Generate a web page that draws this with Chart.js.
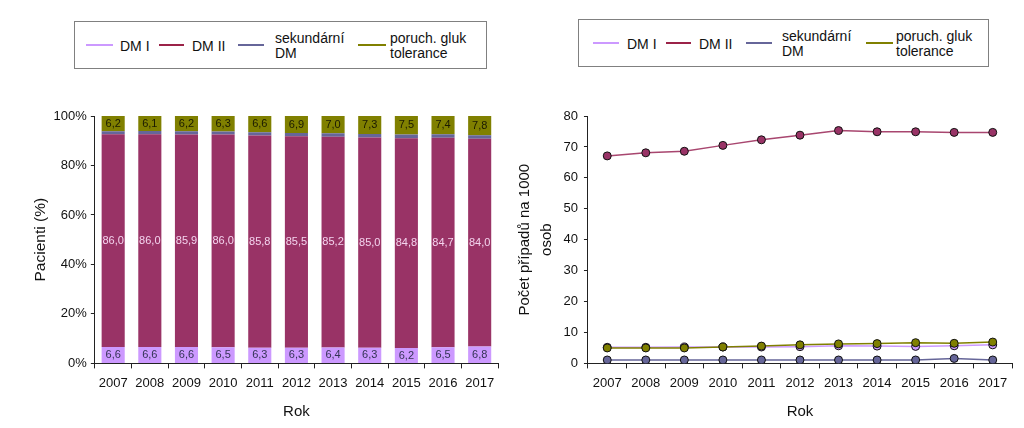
<!DOCTYPE html>
<html>
<head>
<meta charset="utf-8">
<script src="https://cdn.jsdelivr.net/npm/chart.js@4.4.0/dist/chart.umd.min.js"></script>
<style>
  html, body { margin:0; padding:0; background:#fff; width:1024px; height:428px; overflow:hidden; font-family:"Liberation Sans", Arial, sans-serif; }
  canvas { position:absolute; }
  .legend { position:absolute; border:1px solid #808080; background:#fff; box-sizing:border-box; }
  .lg-line { position:absolute; height:2px; }
  .lg-text { position:absolute; font-size:14px; line-height:15px; color:#111; transform:translateY(-50%); white-space:nowrap; }
</style>
</head>
<body>
<canvas id="left" width="512" height="333" style="left:0;top:95px;"></canvas>
<canvas id="right" width="512" height="333" style="left:512px;top:95px;"></canvas>
<div class="legend" id="legL" style="left:74px;top:21px;width:413px;height:48px;"></div>
<div class="legend" id="legR" style="left:578px;top:19px;width:411px;height:48px;"></div>
<script>
// ---- data ----
const years = ['2007','2008','2009','2010','2011','2012','2013','2014','2015','2016','2017'];
const seriesNames = [['DM I'], ['DM II'], ['sekundární', 'DM'], ['poruch. gluk', 'tolerance']];

// share of patients (%)
const pctDM1  = [6.6, 6.6, 6.6, 6.5, 6.3, 6.3, 6.4, 6.3, 6.2, 6.5, 6.8];
const pctDM2  = [86.0, 86.0, 85.9, 86.0, 85.8, 85.5, 85.2, 85.0, 84.8, 84.7, 84.0];
const pctSec  = [1.2, 1.3, 1.3, 1.2, 1.3, 1.3, 1.4, 1.4, 1.5, 1.4, 1.4];
const pctGluk = [6.2, 6.1, 6.2, 6.3, 6.6, 6.9, 7.0, 7.3, 7.5, 7.4, 7.8];

// cases per 1000 persons
const rateDM1  = [5.2, 5.2, 5.3, 5.3, 5.3, 5.4, 5.7, 5.6, 5.5, 5.7, 6.0];
const rateDM2  = [67.1, 68.1, 68.6, 70.5, 72.3, 73.8, 75.3, 74.9, 74.9, 74.7, 74.7];
const rateSec  = [1.1, 1.1, 1.1, 1.1, 1.1, 1.1, 1.1, 1.1, 1.1, 1.6, 1.1];
const rateGluk = [5.0, 5.0, 5.0, 5.3, 5.6, 6.0, 6.3, 6.4, 6.7, 6.5, 6.9];

const yTicksPct = [0, 20, 40, 60, 80, 100];
// ---- style ----
const colors = ['#cc99ff', '#993366', '#666699', '#808000'];
const lineColors = ['#cc99ff', '#a8466f', '#666699', '#808000'];
const legendLineColors = ['#cc99ff', '#9b2348', '#666699', '#808000'];
const labelColors = ['#333355', '#f4d4ee', null, '#1a1a00'];
const FONT = '"Liberation Sans", Arial, sans-serif';

Chart.defaults.font.family = FONT;
Chart.defaults.color = '#111';
Chart.defaults.animation = false;

// legends (HTML)
function buildLegend(el, lineX, textX, cy) {
  seriesNames.forEach((name, i) => {
    const ln = document.createElement('div');
    ln.className = 'lg-line';
    ln.style.left = lineX[i][0] + 'px';
    ln.style.width = (lineX[i][1] - lineX[i][0]) + 'px';
    ln.style.top = (cy - 1) + 'px';
    ln.style.background = legendLineColors[i];
    el.appendChild(ln);
    const tx = document.createElement('div');
    tx.className = 'lg-text';
    tx.style.left = textX[i] + 'px';
    tx.style.top = (cy + 1) + 'px';
    tx.innerHTML = name.join('<br>');
    el.appendChild(tx);
  });
}
buildLegend(document.getElementById('legL'), [[11,38],[84,109],[163,189],[283,311]], [45,117,200,315], 23);
buildLegend(document.getElementById('legR'), [[14,40],[87,112],[167,193],[287,314]], [48,120,203,317], 23);

// bar value labels
const barLabels = {
  id: 'barLabels',
  afterDatasetsDraw(chart) {
    const ctx = chart.ctx;
    ctx.save();
    ctx.font = '11px ' + FONT;
    ctx.textAlign = 'center';
    ctx.textBaseline = 'middle';
    chart.data.datasets.forEach((ds, di) => {
      if (!labelColors[di]) return;
      const meta = chart.getDatasetMeta(di);
      meta.data.forEach((el, i) => {
        const v = ds.data[i];
        ctx.fillStyle = labelColors[di];
        ctx.fillText(v.toFixed(1).replace('.', ','), el.x, (el.y + el.base) / 2);
      });
    });
    ctx.restore();
  }
};

const axisCommon = {
  border: { color: '#222', width: 1 },
};

new Chart(document.getElementById('left'), {
  type: 'bar',
  data: {
    labels: years,
    datasets: [
      { label: seriesNames[0].join(' '), data: pctDM1, backgroundColor: colors[0] },
      { label: seriesNames[1].join(' '), data: pctDM2, backgroundColor: colors[1] },
      { label: seriesNames[2].join(' '), data: pctSec, backgroundColor: colors[2] },
      { label: seriesNames[3].join(' '), data: pctGluk, backgroundColor: colors[3] },
    ].map(d => Object.assign(d, { barPercentage: 0.63, categoryPercentage: 1.0, borderWidth: 0 }))
  },
  options: {
    responsive: false,
    layout: { padding: { left: 27, right: 14, top: 21, bottom: 7 } },
    plugins: { legend: { display: false }, tooltip: { enabled: false } },
    scales: {
      x: {
        stacked: true,
        ...axisCommon,
        grid: { display: true, drawOnChartArea: false, tickLength: 5, color: '#222', offset: true },
        ticks: { font: { size: 13 }, color: '#111', padding: 7, maxRotation: 0 },
        title: { display: true, text: 'Rok', font: { size: 15 }, color: '#111', padding: { top: 5, bottom: 0 } }
      },
      y: {
        stacked: true, min: 0, max: 100,
        ...axisCommon,
        grid: { display: true, drawOnChartArea: false, tickLength: 4, color: '#222' },
        afterBuildTicks: (s) => { s.ticks = yTicksPct.map(v => ({ value: v })); },
        ticks: { font: { size: 13 }, color: '#111', padding: 4, callback: v => v + '%' },
        title: { display: true, text: 'Pacienti (%)', font: { size: 15.5 }, color: '#111', padding: { top: 4, bottom: 0 } }
      }
    }
  },
  plugins: [barLabels]
});

new Chart(document.getElementById('right'), {
  type: 'line',
  data: {
    labels: years,
    datasets: [
      { label: seriesNames[3].join(' '), data: rateGluk, c: 3 },
      { label: seriesNames[2].join(' '), data: rateSec, c: 2 },
      { label: seriesNames[1].join(' '), data: rateDM2, c: 1 },
      { label: seriesNames[0].join(' '), data: rateDM1, c: 0 },
    ].map(d => Object.assign(d, {
      borderColor: lineColors[d.c], backgroundColor: colors[d.c], pointBackgroundColor: colors[d.c],
      pointBorderColor: '#111', pointBorderWidth: 1, pointRadius: 4, borderWidth: 1.5, tension: 0, fill: false
    }))
  },
  options: {
    responsive: false,
    layout: { padding: { left: 0, right: 12, top: 21, bottom: 7 } },
    plugins: { legend: { display: false }, tooltip: { enabled: false } },
    scales: {
      x: {
        offset: true,
        ...axisCommon,
        grid: { display: true, drawOnChartArea: false, tickLength: 5, color: '#222', offset: true },
        ticks: { font: { size: 13 }, color: '#111', padding: 7, maxRotation: 0 },
        title: { display: true, text: 'Rok', font: { size: 15 }, color: '#111', padding: { top: 5, bottom: 0 } }
      },
      y: {
        min: 0, max: 80,
        ...axisCommon,
        grid: { display: true, drawOnChartArea: false, tickLength: 4, color: '#222' },
        ticks: { font: { size: 13 }, color: '#111', padding: 6, stepSize: 10 },
        title: { display: true, text: ['Počet případů na 1000', 'osob'], font: { size: 15, lineHeight: 1.45 }, color: '#111', padding: { top: 2, bottom: 0 } }
      }
    }
  }
});
</script>
</body>
</html>
